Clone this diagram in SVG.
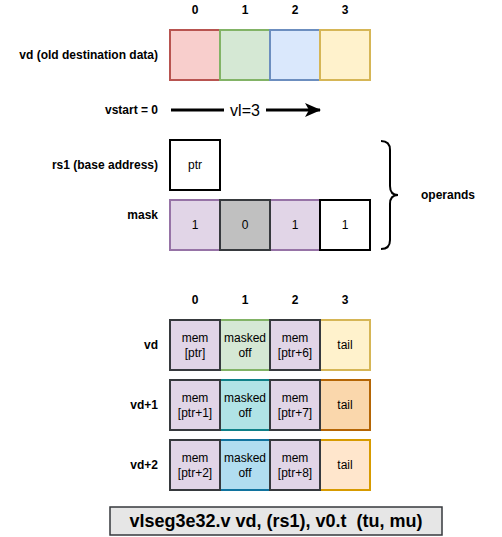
<svg xmlns="http://www.w3.org/2000/svg" width="502" height="537" viewBox="0 0 502 537">
<style>
text{font-family:"Liberation Sans",Arial,sans-serif;fill:#000}
.lb{font-size:12px;font-weight:bold;text-anchor:end}
.hd{font-size:12px;font-weight:bold;text-anchor:middle}
.ct{font-size:12px;text-anchor:middle}
.c{stroke-width:2}
.pu{fill:#e1d5e7;stroke:#9673a6}
.pd{fill:#e1d5e7;stroke:#36393d}
.gr{fill:#d5e8d4;stroke:#82b366}
.re{fill:#f8cecc;stroke:#b85450}
.bl{fill:#dae8fc;stroke:#6c8ebf}
.ye{fill:#fff2cc;stroke:#d6b656}
.wh{fill:#ffffff;stroke:#000000}
.gy{fill:#c0c0c0;stroke:#36393d}
.cy{fill:#b0e3e6;stroke:#0e8088}
.sb{fill:#b1ddf0;stroke:#10739e}
.or{fill:#fad7ac;stroke:#b46504}
.pe{fill:#ffe6cc;stroke:#d79b00}
</style>
<defs>
<marker id="ah" markerWidth="16" markerHeight="14" refX="15" refY="7" orient="auto" markerUnits="userSpaceOnUse" viewBox="0 0 16 14">
<path d="M0,0 L16,7 L0,14 L4,7 Z" fill="#000"/>
</marker>
</defs>

<g id="top-headers">
<text class="hd" x="195" y="14">0</text>
<text class="hd" x="245" y="14">1</text>
<text class="hd" x="295" y="14">2</text>
<text class="hd" x="345" y="14">3</text>
</g>

<g id="vd-old">
<text class="lb" x="158" y="59">vd (old destination data)</text>
<rect class="c re" x="170" y="30" width="50" height="50"/>
<rect class="c gr" x="220" y="30" width="50" height="50"/>
<rect class="c bl" x="270" y="30" width="50" height="50"/>
<rect class="c ye" x="320" y="30" width="50" height="50"/>
</g>

<g id="vstart">
<text class="lb" x="158" y="114">vstart = 0</text>
</g>

<g id="connectors">
<line x1="171" y1="110" x2="224" y2="110" stroke="#000" stroke-width="3"/>
<line x1="266" y1="110" x2="320" y2="110" stroke="#000" stroke-width="3" marker-end="url(#ah)"/>
<text x="245" y="116" font-size="16" text-anchor="middle">vl=3</text>
</g>

<g id="rs1">
<text class="lb" x="158" y="169">rs1 (base address)</text>
<rect class="c wh" x="170" y="140" width="50" height="50"/>
<text class="ct" x="195" y="169">ptr</text>
</g>

<g id="mask">
<text class="lb" x="158" y="219">mask</text>
<rect class="c pu" x="170" y="200" width="50" height="50"/>
<rect class="c pu" x="270" y="200" width="50" height="50"/>
<rect class="c gy" x="220" y="200" width="50" height="50"/>
<rect class="c wh" x="320" y="200" width="50" height="50"/>
<text class="ct" x="195" y="229">1</text>
<text class="ct" x="245" y="229">0</text>
<text class="ct" x="295" y="229">1</text>
<text class="ct" x="345" y="229">1</text>
</g>

<g id="operands">
<path d="M381,141 Q390,141 390,150 L390,186 Q390,195 398,195 Q390,195 390,204 L390,240 Q390,249 381,249" fill="none" stroke="#000" stroke-width="2"/>
<text x="448" y="199" font-size="12" font-weight="bold" text-anchor="middle">operands</text>
</g>

<g id="bottom-headers">
<text class="hd" x="195" y="304">0</text>
<text class="hd" x="245" y="304">1</text>
<text class="hd" x="295" y="304">2</text>
<text class="hd" x="345" y="304">3</text>
</g>

<g id="vd">
<text class="lb" x="158" y="349">vd</text>
<rect class="c gr" x="220" y="320" width="50" height="50"/>
<rect class="c ye" x="320" y="320" width="50" height="50"/>
<rect class="c pd" x="170" y="320" width="50" height="50"/>
<rect class="c pd" x="270" y="320" width="50" height="50"/>
<text class="ct" x="195" y="342">mem</text><text class="ct" x="195" y="357">[ptr]</text>
<text class="ct" x="245" y="342">masked</text><text class="ct" x="245" y="357">off</text>
<text class="ct" x="295" y="342">mem</text><text class="ct" x="295" y="357">[ptr+6]</text>
<text class="ct" x="345" y="349">tail</text>
</g>

<g id="vd1">
<text class="lb" x="158" y="409">vd+1</text>
<rect class="c cy" x="220" y="380" width="50" height="50"/>
<rect class="c or" x="320" y="380" width="50" height="50"/>
<rect class="c pd" x="170" y="380" width="50" height="50"/>
<rect class="c pd" x="270" y="380" width="50" height="50"/>
<text class="ct" x="195" y="402">mem</text><text class="ct" x="195" y="417">[ptr+1]</text>
<text class="ct" x="245" y="402">masked</text><text class="ct" x="245" y="417">off</text>
<text class="ct" x="295" y="402">mem</text><text class="ct" x="295" y="417">[ptr+7]</text>
<text class="ct" x="345" y="409">tail</text>
</g>

<g id="vd2">
<text class="lb" x="158" y="469">vd+2</text>
<rect class="c sb" x="220" y="440" width="50" height="50"/>
<rect class="c pe" x="320" y="440" width="50" height="50"/>
<rect class="c pd" x="170" y="440" width="50" height="50"/>
<rect class="c pd" x="270" y="440" width="50" height="50"/>
<text class="ct" x="195" y="462">mem</text><text class="ct" x="195" y="477">[ptr+2]</text>
<text class="ct" x="245" y="462">masked</text><text class="ct" x="245" y="477">off</text>
<text class="ct" x="295" y="462">mem</text><text class="ct" x="295" y="477">[ptr+8]</text>
<text class="ct" x="345" y="469">tail</text>
</g>

<g id="instruction">
<rect x="110" y="507" width="332" height="28" fill="#e6e6e6" stroke="#36393d" stroke-width="1.5"/>
<text x="276" y="527" font-size="18" font-weight="bold" text-anchor="middle" style="white-space:pre">vlseg3e32.v vd, (rs1), v0.t  (tu, mu)</text>
</g>
</svg>
